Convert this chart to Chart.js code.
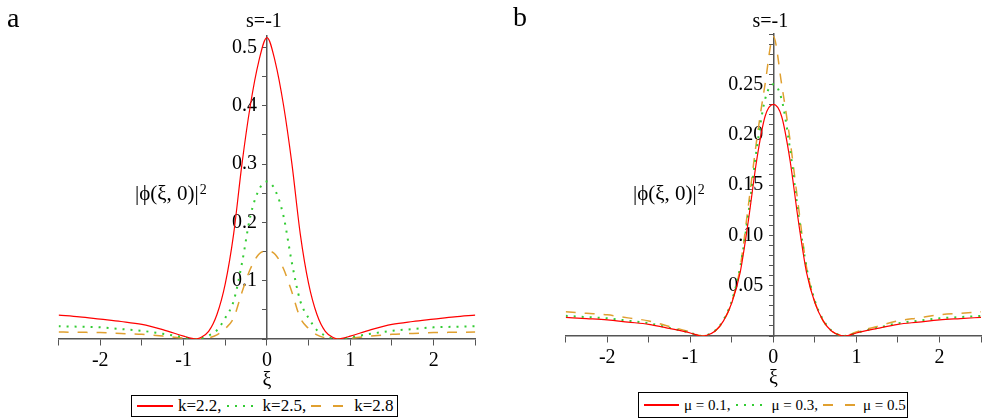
<!DOCTYPE html>
<html>
<head>
<meta charset="utf-8">
<script src="https://cdn.jsdelivr.net/npm/chart.js@4.4.1/dist/chart.umd.min.js"></script>
<style>
  body { margin: 0; background: #fff; }
  #wrap { position: relative; width: 985px; height: 420px; overflow: hidden; font-family: 'Liberation Serif', 'Times New Roman', serif; }
  canvas { position: absolute; top: 0; }
  #chartA { left: 0; }
  #chartB { left: 490px; }
  .legend { position: absolute; box-sizing: border-box; border: 1px solid #000; background: #fff; display: flex; align-items: center; white-space: nowrap; color: #000; }
  .legend .s { display: inline-block; height: 2px; margin: 0 5px 0 5px; flex: none; }
</style>
</head>
<body>
<div id="wrap">
  <canvas id="chartA" width="490" height="420"></canvas>
  <canvas id="chartB" width="495" height="420"></canvas>
  <div class="legend" id="legA" style="left:131px; top:395px; width:267px; height:22px; font-size:17px;"></div>
  <div class="legend" id="legB" style="left:638px; top:392px; width:270px; height:26px; font-size:15px;"></div>
</div>
<script>
// abscissa (xi) shared by every curve
const xi = [-2.5, -2.25, -2, -1.75, -1.5, -1.25, -1, -0.9, -0.85, -0.8, -0.7, -0.6, -0.5, -0.4, -0.3, -0.2, -0.1, 0,
            0.1, 0.2, 0.3, 0.4, 0.5, 0.6, 0.7, 0.8, 0.85, 0.9, 1, 1.25, 1.5, 1.75, 2, 2.25, 2.5];

// panel a : k = 2.2, 2.5, 2.8
const kRed = [0.041, 0.038, 0.034, 0.030, 0.025, 0.016, 0.005, 0.001, 0, 0.002, 0.013, 0.042, 0.095, 0.18, 0.30, 0.40, 0.475, 0.517,
              0.475, 0.40, 0.30, 0.18, 0.095, 0.042, 0.013, 0.002, 0, 0.001, 0.005, 0.016, 0.025, 0.030, 0.034, 0.038, 0.041];
const kGreen = [0.022, 0.021, 0.020, 0.017, 0.014, 0.009, 0.003, 0.0005, 0, 0.0008, 0.006, 0.015, 0.036, 0.065, 0.13, 0.21, 0.255, 0.27,
                0.255, 0.21, 0.13, 0.065, 0.036, 0.015, 0.006, 0.0008, 0, 0.0005, 0.003, 0.009, 0.014, 0.017, 0.020, 0.021, 0.022];
const kOrange = [0.012, 0.0115, 0.011, 0.0095, 0.008, 0.005, 0.0015, 0.0002, 0, 0.0003, 0.002, 0.007, 0.018, 0.036, 0.08, 0.12, 0.145, 0.151,
                 0.145, 0.12, 0.08, 0.036, 0.018, 0.007, 0.002, 0.0003, 0, 0.0002, 0.0015, 0.005, 0.008, 0.0095, 0.011, 0.0115, 0.012];

// panel b : mu = 0.1, 0.3, 0.5
const muRed = [0.0185, 0.0173, 0.016, 0.0138, 0.0116, 0.0075, 0.003, 0.0005, 0, 0.0008, 0.005, 0.015, 0.033, 0.063, 0.115, 0.175, 0.218, 0.23,
               0.218, 0.175, 0.115, 0.063, 0.033, 0.015, 0.005, 0.0008, 0, 0.0005, 0.003, 0.0075, 0.0116, 0.0138, 0.016, 0.0173, 0.0185];
const muGreen = [0.020, 0.0188, 0.0176, 0.0152, 0.0126, 0.008, 0.0032, 0.0005, 0, 0.0008, 0.0055, 0.016, 0.035, 0.068, 0.122, 0.186, 0.235, 0.25,
                 0.235, 0.186, 0.122, 0.068, 0.035, 0.016, 0.0055, 0.0008, 0, 0.0005, 0.0032, 0.008, 0.0126, 0.0152, 0.0176, 0.0188, 0.020];
const muOrange = [0.024, 0.0225, 0.021, 0.018, 0.015, 0.0095, 0.004, 0.0008, 0, 0.0008, 0.005, 0.015, 0.034, 0.068, 0.13, 0.195, 0.25, 0.2975,
                  0.25, 0.195, 0.13, 0.068, 0.034, 0.015, 0.005, 0.0008, 0, 0.0008, 0.004, 0.0095, 0.015, 0.018, 0.021, 0.0225, 0.024];

const labelsA = ['k=2.2,', 'k=2.5,', 'k=2.8'];
const labelsB = ['\u03bc = 0.1,', '\u03bc = 0.3,', '\u03bc = 0.5'];

// tick labels
const xTickLabels = [-2, -1, 0, 1, 2];
const yTickLabelsA = ['0.1', '0.2', '0.3', '0.4', '0.5'];
const yTickLabelsB = ['0.05', '0.10', '0.15', '0.20', '0.25'];

const FONT = "'Liberation Serif', 'Times New Roman', serif";
Chart.defaults.font.family = FONT;
Chart.defaults.color = '#000';

const styles = [
  { color: '#ff0000', width: 1.2, dash: [] },
  { color: '#33cc33', width: 2, dash: [2, 6] },
  { color: '#e0a030', width: 1.5, dash: [10, 9] }
];

// textos del panel (letra, titulo, ejes)
const panelText = {
  id: 'panelText',
  afterDraw(chart, args, o) {
    const { ctx } = chart;
    const x0 = chart.scales.x.getPixelForValue(0);
    ctx.save();
    ctx.fillStyle = '#000';
    ctx.textBaseline = 'alphabetic';

    ctx.font = '28px ' + FONT;
    ctx.textAlign = 'left';
    ctx.fillText(o.letter, o.letterX, o.letterY);

    ctx.font = '20px ' + FONT;
    ctx.textAlign = 'center';
    ctx.fillText('s=-1', x0 - 3, o.titleY);
    ctx.fillText('\u03be', x0, o.xTitleY);

    ctx.font = '21px ' + FONT;
    ctx.textAlign = 'left';
    const yt = '|\u03d5(\u03be, 0)|';
    ctx.fillText(yt, o.yTitleX, 200);
    const w = ctx.measureText(yt).width;
    ctx.font = '14px ' + FONT;
    ctx.fillText('2', o.yTitleX + w + 1, 194);
    ctx.restore();
  }
};

const makeChart = (id, series, labels, yMax, yStep, yLabels, pad, text) => {
  const datasets = series.map((vals, i) => ({
    label: labels[i],
    data: vals.map((v, j) => ({ x: xi[j], y: v })),
    borderColor: styles[i].color,
    borderWidth: styles[i].width,
    borderDash: styles[i].dash,
    pointRadius: 0,
    fill: false,
    cubicInterpolationMode: 'monotone'
  }));

  const tickFont = { family: FONT, size: 20 };

  return new Chart(document.getElementById(id), {
    type: 'line',
    data: { datasets },
    options: {
      responsive: false,
      animation: false,
      layout: { padding: pad },
      plugins: { legend: { display: false }, tooltip: { enabled: false }, panelText: text },
      scales: {
        x: {
          type: 'linear',
          min: -2.5,
          max: 2.5,
          position: { y: 0 },
          border: { color: '#555', width: 1.5 },
          grid: { drawOnChartArea: false, tickLength: 6, tickColor: '#555' },
          ticks: {
            stepSize: 0.5,
            autoSkip: false,
            maxRotation: 0,
            padding: 4,
            font: tickFont,
            callback: (v) => xTickLabels.includes(v) ? String(v) : ''
          }
        },
        y: {
          type: 'linear',
          min: 0,
          max: yMax,
          position: { x: 0 },
          border: { color: '#555', width: 1.5 },
          grid: { drawOnChartArea: false, tickLength: 4, tickColor: '#555' },
          // marcas menores cada yStep, hasta el maximo
          afterBuildTicks: (scale) => {
            const n = Math.floor(yMax / yStep + 1e-6);
            const ticks = [];
            for (let i = 0; i <= n; i++) ticks.push({ value: +(i * yStep).toFixed(4) });
            scale.ticks = ticks;
          },
          ticks: {
            autoSkip: false,
            font: tickFont,
            callback: (v) => {
              const s = yLabels.find(l => Math.abs(parseFloat(l) - v) < 1e-6);
              return s ? s + '\u2002' : '';
            }
          }
        }
      }
    },
    plugins: [panelText]
  });
};

makeChart('chartA', [kRed, kGreen, kOrange], labelsA, 0.52, 0.05, yTickLabelsA,
  { left: 58.6, right: 14.7, top: 35.8, bottom: 81 },
  { letter: 'a', letterX: 7, letterY: 27, titleY: 26.5, xTitleY: 386, yTitleX: 135 });

makeChart('chartB', [muRed, muGreen, muOrange], labelsB, 0.30, 0.01, yTickLabelsB,
  { left: 75.7, right: 2.7, top: 34, bottom: 84 },
  { letter: 'b', letterX: 23, letterY: 26, titleY: 27, xTitleY: 384, yTitleX: 143 });

// leyendas en HTML
const sampleBg = [
  '#ff0000',
  'repeating-linear-gradient(to right, #33cc33 0 2px, transparent 2px 8px)',
  'repeating-linear-gradient(to right, #e0a030 0 10px, transparent 10px 22px)'
];
const buildLegend = (id, labels, widths) => {
  const box = document.getElementById(id);
  labels.forEach((txt, i) => {
    const s = document.createElement('span');
    s.className = 's';
    s.style.width = widths[i] + 'px';
    s.style.background = sampleBg[i];
    if (i === 0) s.style.height = '1.2px';
    const t = document.createElement('span');
    t.textContent = txt;
    box.appendChild(s);
    box.appendChild(t);
  });
};
buildLegend('legA', labelsA, [36, 31, 38]);
buildLegend('legB', labelsB, [35, 31, 35]);
</script>
</body>
</html>
